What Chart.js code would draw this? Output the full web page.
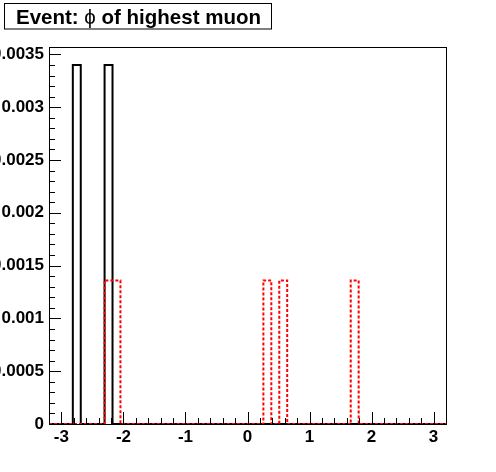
<!DOCTYPE html>
<html>
<head>
<meta charset="utf-8">
<script src="https://cdn.jsdelivr.net/npm/chart.js@4.4.1/dist/chart.umd.min.js"></script>
<style>
  html, body { margin: 0; padding: 0; background: #ffffff; }
  #wrap { width: 496px; height: 472px; position: relative; }
</style>
</head>
<body>
<div id="wrap"><canvas id="c" width="496" height="472"></canvas></div>
<script>
// ---- Histogram definition ----
const xMin = -3.2;
const xMax = 3.2;
const nBins = 50;
const yMax = 0.00357;

// bin contents (50 bins from -3.2 to 3.2)
const blackBins = [
  0, 0, 0, 0.0034, 0, 0, 0, 0.0034, 0, 0,
  0, 0, 0, 0, 0, 0, 0, 0, 0, 0,
  0, 0, 0, 0, 0, 0, 0, 0, 0, 0,
  0, 0, 0, 0, 0, 0, 0, 0, 0, 0,
  0, 0, 0, 0, 0, 0, 0, 0, 0, 0
];
const redBins = [
  0, 0, 0, 0, 0, 0, 0, 0.00136, 0.00136, 0,
  0, 0, 0, 0, 0, 0, 0, 0, 0, 0,
  0, 0, 0, 0, 0, 0, 0, 0.00136, 0, 0.00136,
  0, 0, 0, 0, 0, 0, 0, 0, 0.00136, 0,
  0, 0, 0, 0, 0, 0, 0, 0, 0, 0
];

const xTickValues = [-3, -2, -1, 0, 1, 2, 3];
const xTickLabels = ['-3', '-2', '-1', '0', '1', '2', '3'];
const yTickValues = [0, 0.0005, 0.001, 0.0015, 0.002, 0.0025, 0.003, 0.0035];
const yTickLabels = ['0', '0.0005', '0.001', '0.0015', '0.002', '0.0025', '0.003', '0.0035'];
const xMinorStep = 0.2;
const yMinorStep = 0.0001;

const titleParts = ['Event: ', '\u03D5', ' of highest muon'];

// step outline points from bin contents
function stepPoints(bins) {
  const w = (xMax - xMin) / bins.length;
  const pts = bins.map((v, i) => ({ x: xMin + i * w, y: v }));
  pts.push({ x: xMax, y: bins[bins.length - 1] });
  return pts;
}

const FONT = '"Liberation Sans", Arial, Helvetica, sans-serif';

const framePlugin = {
  id: 'frame',
  afterDatasetsDraw(chart) {
    const ctx = chart.ctx;
    const a = chart.chartArea;
    const xs = chart.scales.x, ys = chart.scales.y;
    ctx.save();
    ctx.strokeStyle = '#000';
    ctx.lineWidth = 1;
    ctx.strokeRect(Math.round(a.left) + 0.5, Math.round(a.top) + 0.5,
      Math.round(a.right - a.left), Math.round(a.bottom - a.top));
    ctx.beginPath();
    const nx = Math.round((xMax - xMin) / xMinorStep);
    for (let i = 0; i <= nx; i++) {
      const v = xMin + i * xMinorStep;
      if (v <= xMin + 1e-9 || v >= xMax - 1e-9) continue;
      const major = xTickValues.some(t => Math.abs(t - v) < 1e-6);
      const px = Math.round(xs.getPixelForValue(v)) + 0.5;
      const len = major ? 12 : 6;
      ctx.moveTo(px, a.bottom);
      ctx.lineTo(px, a.bottom - len);
    }
    const ny = Math.floor(yMax / yMinorStep + 1e-9);
    for (let i = 1; i <= ny; i++) {
      const v = i * yMinorStep;
      const major = yTickValues.some(t => Math.abs(t - v) < 1e-9);
      const py = Math.round(ys.getPixelForValue(v)) + 0.5;
      const len = major ? 12 : 6;
      ctx.moveTo(a.left, py);
      ctx.lineTo(a.left + len, py);
    }
    ctx.stroke();
    ctx.restore();
  },
  afterDraw(chart) {
    const ctx = chart.ctx;
    ctx.save();
    ctx.fillStyle = '#fff';
    ctx.fillRect(4.5, 3.5, 267, 25.5);
    ctx.strokeStyle = '#000';
    ctx.lineWidth = 1;
    ctx.strokeRect(4.5, 3.5, 267, 25.5);
    ctx.fillStyle = '#000';
    ctx.textBaseline = 'alphabetic';
    let x = 16;
    const fonts = ['bold 20.5px ' + FONT, '20.5px ' + FONT, 'bold 20.5px ' + FONT];
    titleParts.forEach((t, i) => {
      ctx.font = fonts[i];
      ctx.fillText(t, x, 23.5);
      x += ctx.measureText(t).width;
    });
    ctx.restore();
  }
};

new Chart(document.getElementById('c'), {
  type: 'line',
  data: {
    datasets: [
      {
        label: 'red',
        data: stepPoints(redBins),
        stepped: 'before',
        borderColor: '#ff0000',
        borderWidth: 2,
        borderDash: [3, 2],
        pointRadius: 0,
        fill: false,
        order: 0,
        clip: false
      },
      {
        label: 'black',
        data: stepPoints(blackBins),
        stepped: 'before',
        borderColor: '#000000',
        borderWidth: 2,
        pointRadius: 0,
        fill: false,
        order: 1,
        clip: false
      }
    ]
  },
  options: {
    responsive: false,
    animation: false,
    devicePixelRatio: 1,
    layout: { padding: { top: 47, right: 50, left: 0, bottom: 0 } },
    plugins: { legend: { display: false }, tooltip: { enabled: false }, title: { display: false } },
    scales: {
      x: {
        type: 'linear',
        min: xMin,
        max: xMax,
        grid: { display: false, drawTicks: false },
        border: { display: false },
        afterFit(s) { s.height = 48; },
        afterBuildTicks(s) { s.ticks = xTickValues.map(v => ({ value: v })); },
        ticks: {
          autoSkip: false,
          maxRotation: 0,
          padding: 3,
          color: '#000',
          font: { family: FONT, size: 17, weight: 'bold' },
          callback(v) {
            const i = xTickValues.findIndex(t => Math.abs(t - v) < 1e-9);
            return i >= 0 ? xTickLabels[i] : '';
          }
        }
      },
      y: {
        type: 'linear',
        min: 0,
        max: yMax,
        grid: { display: false, drawTicks: false },
        border: { display: false },
        afterFit(s) { s.width = 49; },
        afterBuildTicks(s) { s.ticks = yTickValues.map(v => ({ value: v })); },
        ticks: {
          autoSkip: false,
          padding: 5,
          color: '#000',
          font: { family: FONT, size: 17, weight: 'bold' },
          callback(v) {
            const i = yTickValues.findIndex(t => Math.abs(t - v) < 1e-9);
            return i >= 0 ? yTickLabels[i] : '';
          }
        }
      }
    }
  },
  plugins: [framePlugin]
});
</script>
</body>
</html>
